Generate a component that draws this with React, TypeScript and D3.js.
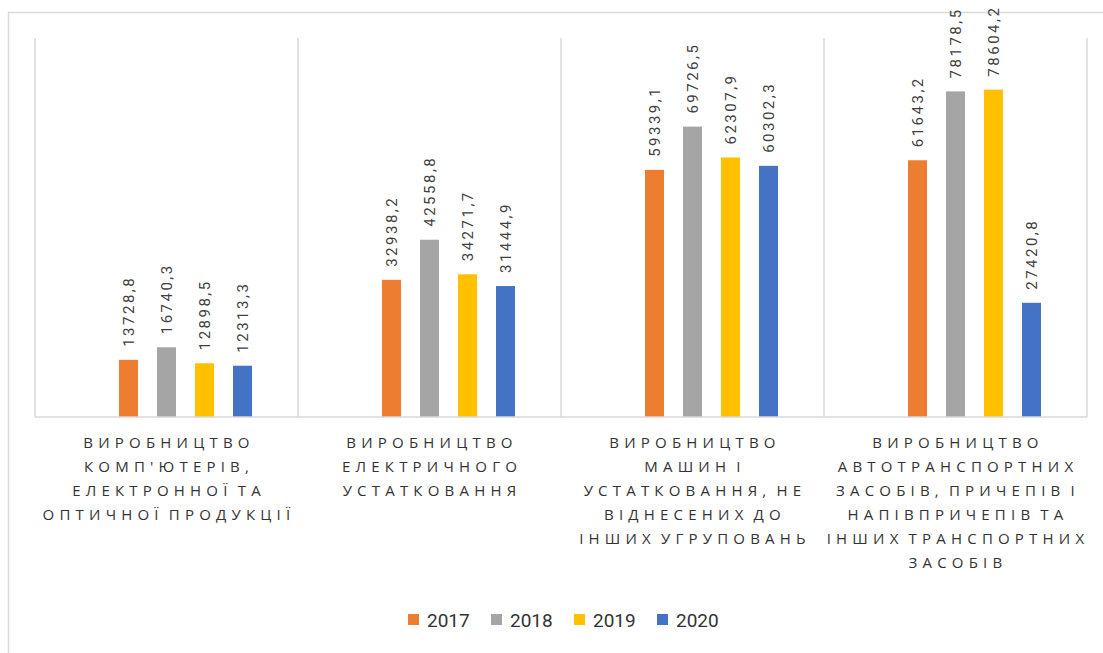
import React from "react";
import * as d3 from "d3";

const categories: string[][] = [
  ["ВИРОБНИЦТВО", "КОМП'ЮТЕРІВ,", "ЕЛЕКТРОННОЇ ТА", "ОПТИЧНОЇ ПРОДУКЦІЇ"],
  ["ВИРОБНИЦТВО", "ЕЛЕКТРИЧНОГО", "УСТАТКОВАННЯ"],
  ["ВИРОБНИЦТВО", "МАШИН І", "УСТАТКОВАННЯ, НЕ", "ВІДНЕСЕНИХ ДО", "ІНШИХ УГРУПОВАНЬ"],
  ["ВИРОБНИЦТВО", "АВТОТРАНСПОРТНИХ", "ЗАСОБІВ, ПРИЧЕПІВ І", "НАПІВПРИЧЕПІВ ТА", "ІНШИХ ТРАНСПОРТНИХ", "ЗАСОБІВ"],
];
const seriesNames = ["2017", "2018", "2019", "2020"];
const values2017 = [13728.8, 32938.2, 59339.1, 61643.2];
const values2018 = [16740.3, 42558.8, 69726.5, 78178.5];
const values2019 = [12898.5, 34271.7, 62307.9, 78604.2];
const values2020 = [12313.3, 31444.9, 60302.3, 27420.8];
const seriesValues = [values2017, values2018, values2019, values2020];
const colors = ["#ED7D31", "#A5A5A5", "#FFC000", "#4472C4"];

const W = 1103;
const H = 653;
const plotLeft = 35;
const plotRight = 1087;
const plotTop = 38;
const plotBottom = 417;

const fmt = (v: number) => v.toFixed(1).replace(".", ",");

export default function App() {
  const x = d3
    .scaleBand<number>()
    .domain(categories.map((_, i) => i))
    .range([plotLeft, plotRight])
    .padding(0);
  const bw = x.bandwidth();
  const groupW = 190;
  // five slots: first one is empty (hidden series in original)
  const inner = d3
    .scaleBand<string>()
    .domain(["", ...seriesNames])
    .range([(bw - groupW) / 2, (bw + groupW) / 2])
    .paddingInner(0.5)
    .paddingOuter(0.25);
  const y = d3.scaleLinear().domain([0, 91000]).range([plotBottom, plotTop]);

  const gridXs = [...categories.map((_, i) => x(i)!), plotRight];
  const textColor = "#404040";

  return (
    <svg
      width={W}
      height={H}
      style={{ position: "absolute", left: 0, top: 0, background: "#fff" }}
    >
      <rect x={8.5} y={12.5} width={1200} height={800} fill="#fff" stroke="#d9d9d9" strokeWidth={1.5} />
      {gridXs.map((gx, i) => (
        <line key={i} x1={gx} x2={gx} y1={plotTop} y2={plotBottom} stroke="#d9d9d9" strokeWidth={1.5} />
      ))}
      {seriesValues.map((vals, s) =>
        vals.map((v, c) => {
          const bx = x(c)! + inner(seriesNames[s])!;
          const by = y(v);
          const cx = bx + inner.bandwidth() / 2;
          return (
            <g key={`${s}-${c}`}>
              <rect x={bx} y={by} width={inner.bandwidth()} height={plotBottom - by} fill={colors[s]} />
              <text
                transform={`translate(${cx},${by - 13}) rotate(-90)`}
                dominantBaseline="central"
                fontFamily="Roboto, sans-serif"
                fontSize={15}
                letterSpacing={2.5}
                fill={textColor}
              >
                {fmt(v)}
              </text>
            </g>
          );
        })
      )}
      <line x1={plotLeft} x2={plotRight} y1={plotBottom} y2={plotBottom} stroke="#d9d9d9" strokeWidth={1.5} />
      {categories.map((lines, c) => (
        <text
          key={c}
          x={x(c)! + bw / 2}
          y={448}
          textAnchor="middle"
          fontFamily="'Open Sans', sans-serif"
          fontSize={15}
          letterSpacing={5.2}
          wordSpacing={-4}
          fill="#333"
        >
          {lines.map((ln, i) => (
            <tspan key={i} x={x(c)! + bw / 2 + 2.5} y={448 + i * 24}>
              {ln}
            </tspan>
          ))}
        </text>
      ))}
      {seriesNames.map((name, s) => {
        const lx = 408 + s * 83;
        return (
          <g key={name}>
            <rect x={lx} y={614} width={11} height={11} fill={colors[s]} />
            <text
              x={lx + 19}
              y={620}
              dominantBaseline="central"
              fontFamily="Roboto, sans-serif"
              fontSize={19}
              fill="#333"
            >
              {name}
            </text>
          </g>
        );
      })}
    </svg>
  );
}
